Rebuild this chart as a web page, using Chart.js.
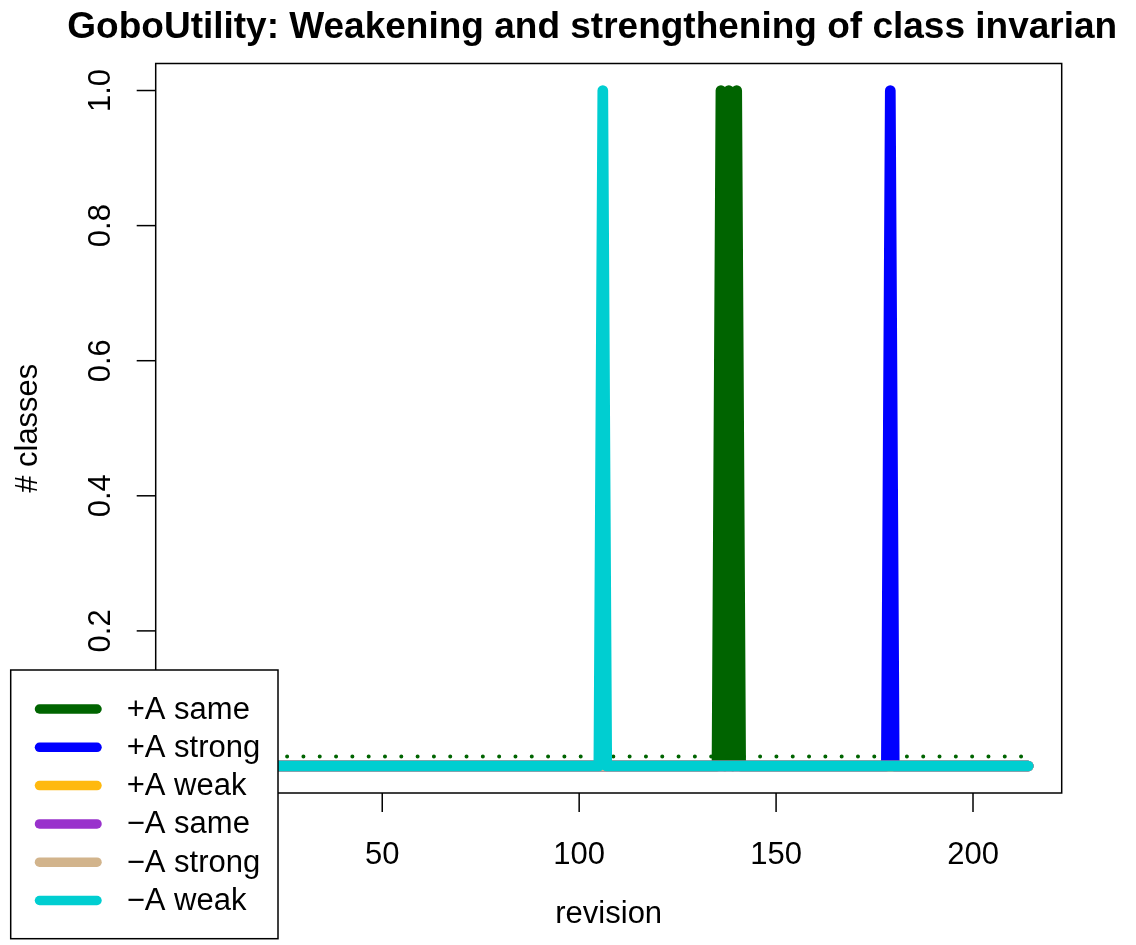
<!DOCTYPE html>
<html>
<head>
<meta charset="utf-8">
<script src="https://cdn.jsdelivr.net/npm/chart.js@4"></script>
<style>
  html, body { margin: 0; padding: 0; background: #ffffff; }
  #wrap { width: 1136px; height: 945px; }
</style>
</head>
<body>
<div id="wrap"><canvas id="chart" width="1136" height="945"></canvas></div>
<script>
// Revisions covered by the history
const firstRevision = 1;
const lastRevision = 214;

// Revisions where the number of classes is 1 (0 everywhere else)
const plusSameRevs = [136, 138, 140];
const plusStrongRevs = [179];
const plusWeakRevs = [];
const minusSameRevs = [];
const minusStrongRevs = [];
const minusWeakRevs = [106];

const seriesNames = ['+A same', '+A strong', '+A weak', '\u2212A same', '\u2212A strong', '\u2212A weak'];
const seriesColors = ['#006400', '#0000FF', '#FFB90F', '#9932CC', '#D2B48C', '#00CED1'];

const xTicks = [0, 50, 100, 150, 200];
const yTicks = [0, 0.2, 0.4, 0.6, 0.8, 1.0];

const titleText = 'GoboUtility: Weakening and strengthening of class invariants';
const xTitle = 'revision';
const yTitle = '# classes';

function buildSeries(revs) {
  const pts = [];
  for (let r = firstRevision; r <= lastRevision; r++) {
    pts.push({ x: r, y: revs.includes(r) ? 1 : 0 });
  }
  return pts;
}

const allRevs = [plusSameRevs, plusStrongRevs, plusWeakRevs, minusSameRevs, minusStrongRevs, minusWeakRevs];
const series = allRevs.map(buildSeries);

// mean level of the "+A same" series, shown as a dotted line
const plusSameMean = series[0].reduce((s, p) => s + p.y, 0) / series[0].length;

const datasets = [];
series.forEach((pts, i) => {
  datasets.push({
    label: seriesNames[i],
    data: pts,
    borderColor: seriesColors[i],
    borderWidth: 10.7,
    borderJoinStyle: 'round',
    borderCapStyle: 'round',
    pointRadius: 0,
    tension: 0,
    order: 20 - i * 2
  });
  if (i === 0) {
    datasets.push({
      label: 'mean',
      data: [{ x: firstRevision, y: plusSameMean }, { x: lastRevision, y: plusSameMean }],
      borderColor: seriesColors[0],
      borderWidth: 4,
      borderDash: [0.01, 16.3],
      borderCapStyle: 'round',
      pointRadius: 0,
      order: 19
    });
  }
});

const span = lastRevision - firstRevision;
const xMin = firstRevision - span * 0.04;
const xMax = lastRevision + span * 0.04;

const FONT = '"Liberation Sans", Arial, Helvetica, sans-serif';

const decorations = {
  id: 'decorations',
  afterDraw(chart) {
    const ctx = chart.ctx;
    const a = chart.chartArea;
    const xs = chart.scales.x, ys = chart.scales.y;
    ctx.save();
    ctx.strokeStyle = '#000';
    ctx.fillStyle = '#000';
    ctx.lineWidth = 1.5;
    // plot box
    ctx.strokeRect(a.left, a.top, a.right - a.left, a.bottom - a.top);

    // x axis ticks and labels
    ctx.font = '31px ' + FONT;
    ctx.textAlign = 'center';
    ctx.textBaseline = 'alphabetic';
    xTicks.forEach(v => {
      const px = xs.getPixelForValue(v);
      ctx.beginPath();
      ctx.moveTo(px, a.bottom);
      ctx.lineTo(px, a.bottom + 19);
      ctx.stroke();
      ctx.fillText(String(v), px, 864);
    });
    // y axis ticks and labels
    yTicks.forEach(v => {
      const py = ys.getPixelForValue(v);
      ctx.beginPath();
      ctx.moveTo(a.left, py);
      ctx.lineTo(a.left - 19, py);
      ctx.stroke();
      ctx.save();
      ctx.translate(110, py);
      ctx.rotate(-Math.PI / 2);
      ctx.textAlign = 'center';
      ctx.fillText(v.toFixed(1), 0, 0);
      ctx.restore();
    });
    // axis titles
    const cx = (a.left + a.right) / 2;
    const cy = (a.top + a.bottom) / 2;
    ctx.fillText(xTitle, cx, 923);
    ctx.save();
    ctx.translate(37, cy);
    ctx.rotate(-Math.PI / 2);
    ctx.fillText(yTitle, 0, 0);
    ctx.restore();

    // main title, clipped to the figure region
    ctx.save();
    ctx.beginPath();
    ctx.rect(0, 0, 1117, 60);
    ctx.clip();
    ctx.font = 'bold 37px ' + FONT;
    ctx.fillText(titleText, cx, 37.5);
    ctx.restore();

    // legend
    const lx = 10.7, ly = 670, lw = 267.3, lh = 268.7;
    ctx.fillStyle = '#fff';
    ctx.fillRect(lx, ly, lw, lh);
    ctx.strokeStyle = '#000';
    ctx.lineWidth = 1.5;
    ctx.strokeRect(lx, ly, lw, lh);
    ctx.font = '31px ' + FONT;
    ctx.textAlign = 'left';
    ctx.textBaseline = 'middle';
    seriesNames.forEach((name, i) => {
      const ry = 709 + i * 38.3;
      ctx.strokeStyle = seriesColors[i];
      ctx.lineWidth = 9.5;
      ctx.lineCap = 'round';
      ctx.beginPath();
      ctx.moveTo(39.5, ry);
      ctx.lineTo(97, ry);
      ctx.stroke();
      ctx.fillStyle = '#000';
      ctx.fillText(name, 126.7, ry + 1);
    });
    ctx.restore();
  }
};

new Chart(document.getElementById('chart'), {
  type: 'line',
  data: { datasets },
  options: {
    responsive: false,
    devicePixelRatio: 1,
    animation: false,
    layout: { padding: { left: 0, top: 63.5, right: 74.3, bottom: 0 } },
    plugins: { legend: { display: false }, title: { display: false }, tooltip: { enabled: false } },
    scales: {
      x: {
        type: 'linear', min: xMin, max: xMax,
        grid: { display: false }, border: { display: false },
        ticks: { display: false },
        afterFit(s) { s.height = 152; }
      },
      y: {
        type: 'linear', min: -0.04, max: 1.04,
        grid: { display: false }, border: { display: false },
        ticks: { display: false },
        afterFit(s) { s.width = 155.7; }
      }
    }
  },
  plugins: [decorations]
});
</script>
</body>
</html>
